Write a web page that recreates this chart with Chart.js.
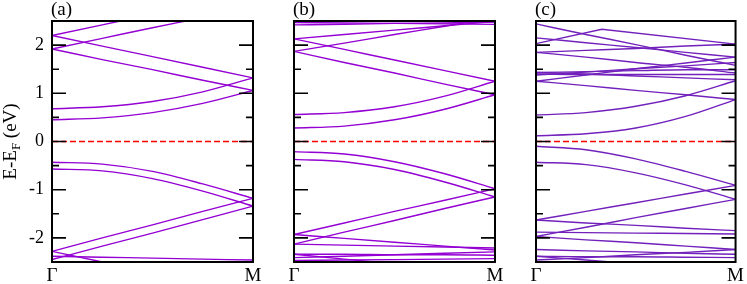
<!DOCTYPE html>
<html>
<head>
<meta charset="utf-8">
<script src="https://cdn.jsdelivr.net/npm/chart.js@4.4.0/dist/chart.umd.min.js"></script>
<style>
  html, body { margin: 0; padding: 0; background: #fff; }
  #wrap { position: relative; width: 747px; height: 284px; }
  #wrap canvas { position: absolute; left: 0; top: 0; }
</style>
</head>
<body>
<div id="wrap">
  <canvas id="pa" width="747" height="284"></canvas>
  <canvas id="pb" width="747" height="284"></canvas>
  <canvas id="pc" width="747" height="284"></canvas>
</div>
<script>
// ---------- data (energies in eV) ----------
const kPath   = [0, 0.25, 0.5, 0.75, 1];     // sample points along Γ -> M
const kTicks  = [0, 1];
const kLabels = ['Γ', 'M'];
const eTicks  = [-2, -1, 0, 1, 2];
const eMinor  = [-1.5, -0.5, 0.5, 1.5];
const fermiK  = [0, 1];
const fermiE  = [0, 0];

// (a)
const bandsA = [
  [2.20, 2.42, 2.64, 2.86, 3.08],
  [1.92, 2.14, 2.36, 2.57, 2.79],
  [2.20, 1.98, 1.76, 1.54, 1.32],
  [1.92, 1.70, 1.49, 1.27, 1.06],
  [0.68, 0.72, 0.83, 1.03, 1.32],
  [0.45, 0.49, 0.60, 0.79, 1.06],
  [-0.43, -0.47, -0.62, -0.88, -1.18],
  [-0.57, -0.61, -0.77, -1.03, -1.34],
  [-2.28, -2.00, -1.73, -1.45, -1.18],
  [-2.45, -2.17, -1.90, -1.62, -1.34],
  [-2.28, -2.50, -2.72, -2.94, -3.16],
  [-2.38, -2.40, -2.42, -2.44, -2.46]
];

// (b)
const bandsB = [
  [2.47, 2.46, 2.45, 2.44, 2.43],
  [2.42, 2.43, 2.45, 2.46, 2.48],
  [2.13, 2.22, 2.31, 2.40, 2.49],
  [1.87, 2.04, 2.22, 2.39, 2.57],
  [2.13, 1.91, 1.69, 1.47, 1.25],
  [1.87, 1.64, 1.42, 1.19, 0.97],
  [0.56, 0.60, 0.72, 0.94, 1.25],
  [0.28, 0.32, 0.45, 0.67, 0.97],
  [-0.21, -0.26, -0.42, -0.67, -0.98],
  [-0.37, -0.42, -0.58, -0.84, -1.15],
  [-1.93, -1.69, -1.45, -1.22, -0.98],
  [-2.13, -1.88, -1.64, -1.39, -1.15],
  [-1.93, -2.01, -2.09, -2.17, -2.25],
  [-2.13, -2.15, -2.17, -2.19, -2.21],
  [-2.34, -2.34, -2.35, -2.35, -2.36],
  [-2.41, -2.38, -2.35, -2.32, -2.29],
  [-2.34, -2.44, -2.54, -2.64, -2.74],
  [-2.47, -2.46, -2.45, -2.44, -2.43]
];

// (c)
const bandsC = [
  [2.44, 2.22, 2.01, 1.79, 1.58],
  [2.15, 2.05, 1.95, 1.85, 1.75],
  [1.85, 1.89, 1.93, 1.98, 2.02],
  [1.85, 1.75, 1.64, 1.54, 1.42],
  [1.43, 1.45, 1.47, 1.49, 1.49],
  [1.38, 1.44, 1.51, 1.57, 1.64],
  [1.25, 1.38, 1.51, 1.63, 1.75],
  [1.40, 1.39, 1.39, 1.39, 1.39],
  [1.43, 1.40, 1.36, 1.32, 1.28],
  [1.25, 1.16, 1.06, 0.97, 0.87],
  [0.55, 0.60, 0.73, 0.95, 1.26],
  [0.12, 0.16, 0.28, 0.52, 0.87],
  [-0.10, -0.17, -0.36, -0.62, -0.91],
  [-0.43, -0.48, -0.65, -0.90, -1.20],
  [-1.63, -1.45, -1.27, -1.09, -0.91],
  [-1.97, -1.78, -1.58, -1.39, -1.20],
  [-1.63, -1.69, -1.74, -1.80, -1.85],
  [-1.88, -1.89, -1.90, -1.91, -1.92],
  [-1.97, -2.04, -2.10, -2.17, -2.24],
  [-2.24, -2.27, -2.29, -2.32, -2.34],
  [-2.38, -2.39, -2.39, -2.40, -2.41],
  [-2.46, -2.41, -2.35, -2.30, -2.24],
  [-2.38, -2.46, -2.54, -2.62, -2.70]
];
// band in (c) with a kink
const kinkK = [0, 0.33, 1];
const kinkE = [2.03, 2.33, 2.02];

// ---------- look ----------
const FONT = '"Liberation Serif", "Times New Roman", serif';
const VIOLET = '#9400d3';
const INDIGO = '#7221bc';

const framePlugin = {
  id: 'frame',
  afterDatasetsDraw(chart, args, opts) {
    const { ctx, chartArea: a, scales: { y } } = chart;
    ctx.save();
    ctx.strokeStyle = '#000';
    ctx.lineWidth = 1.6;
    ctx.beginPath();
    eTicks.forEach(v => {
      const py = y.getPixelForValue(v);
      ctx.moveTo(a.left, py);  ctx.lineTo(a.left + 14, py);
      ctx.moveTo(a.right, py); ctx.lineTo(a.right - 14, py);
    });
    eMinor.forEach(v => {
      const py = y.getPixelForValue(v);
      ctx.moveTo(a.left, py);  ctx.lineTo(a.left + 7, py);
      ctx.moveTo(a.right, py); ctx.lineTo(a.right - 7, py);
    });
    ctx.stroke();
    ctx.lineWidth = 2;
    ctx.strokeRect(a.left, a.top, a.width, a.height);

    // panel tag
    ctx.fillStyle = '#000';
    ctx.textAlign = 'left';
    ctx.textBaseline = 'alphabetic';
    ctx.font = '19px ' + FONT;
    ctx.fillText(opts.tag, a.left - 1, 15);

    // axis title, only on first panel
    if (opts.title) {
      ctx.translate(16, (a.top + a.bottom) / 2);
      ctx.rotate(-Math.PI / 2);
      ctx.font = '19px ' + FONT;
      const w1 = ctx.measureText('E-E').width;
      const w3 = ctx.measureText(' (eV)').width;
      ctx.font = '13px ' + FONT;
      const w2 = ctx.measureText('F').width;
      let x0 = -(w1 + w2 + w3) / 2;
      ctx.font = '19px ' + FONT;
      ctx.fillText('E-E', x0, 0);
      ctx.font = '13px ' + FONT;
      ctx.fillText('F', x0 + w1, 4);
      ctx.font = '19px ' + FONT;
      ctx.fillText(' (eV)', x0 + w1 + w2, 0);
    }
    ctx.restore();
  }
};

function bandSets(bands, color) {
  return bands.map(b => ({
    data: b.map((e, i) => ({ x: kPath[i], y: e })),
    borderColor: color,
    borderWidth: 1.4,
    pointRadius: 0,
    cubicInterpolationMode: 'monotone',
    fill: false
  }));
}

function makePanel(id, tag, datasets, area, showE) {
  datasets.push({
    data: fermiK.map((k, i) => ({ x: k, y: fermiE[i] })),
    borderColor: '#ff0000',
    borderWidth: 1.4,
    borderDash: [6, 3],
    pointRadius: 0,
    fill: false
  });
  return new Chart(document.getElementById(id), {
    type: 'line',
    data: { datasets },
    options: {
      responsive: false,
      animation: false,
      events: [],
      layout: { padding: { left: 0, top: area.top, right: 747 - area.right, bottom: 0 } },
      plugins: {
        legend: { display: false },
        tooltip: { enabled: false },
        frame: { tag: tag, title: showE }
      },
      scales: {
        x: {
          type: 'linear', min: 0, max: 1,
          afterBuildTicks: s => { s.ticks = kTicks.map(v => ({ value: v })); },
          afterFit: s => { s.height = 284 - area.bottom; },
          grid: { display: false, drawTicks: false, tickLength: 0 },
          border: { display: false },
          ticks: {
            callback: v => kLabels[kTicks.indexOf(v)],
            font: { family: FONT, size: 19 },
            color: '#000', padding: 3, maxRotation: 0, autoSkip: false
          }
        },
        y: {
          min: -2.5, max: 2.5,
          afterBuildTicks: s => { s.ticks = eTicks.map(v => ({ value: v })); },
          afterFit: s => { s.width = area.left; },
          grid: { display: false, drawTicks: false, tickLength: 0 },
          border: { display: false },
          ticks: {
            display: showE,
            font: { family: FONT, size: 18 },
            color: '#000', padding: 8
          }
        }
      }
    },
    plugins: [framePlugin]
  });
}

const setsC = bandSets(bandsC, INDIGO);
setsC.push({
  data: kinkK.map((k, i) => ({ x: k, y: kinkE[i] })),
  borderColor: INDIGO, borderWidth: 1.4, pointRadius: 0, fill: false
});

makePanel('pa', '(a)', bandSets(bandsA, VIOLET), { left: 52, right: 253, top: 21, bottom: 262 }, true);
makePanel('pb', '(b)', bandSets(bandsB, VIOLET), { left: 294, right: 495, top: 21, bottom: 262 }, false);
makePanel('pc', '(c)', setsC, { left: 536, right: 737, top: 21, bottom: 262 }, false);
</script>
</body>
</html>
